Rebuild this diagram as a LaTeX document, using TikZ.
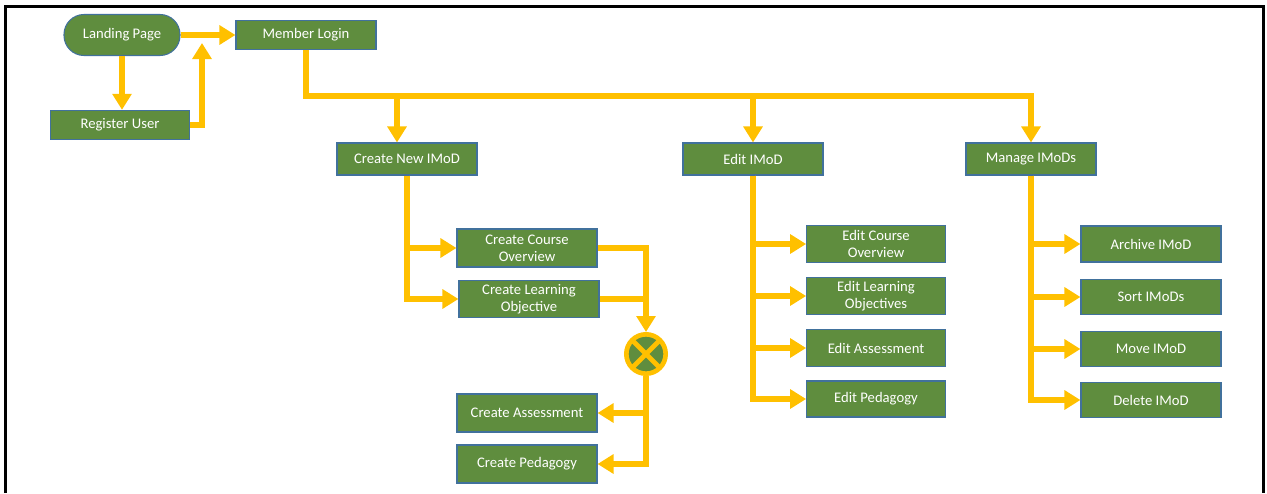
\documentclass[tikz,border=0pt]{standalone}
\usepackage{fontspec}
\setmainfont{Carlito}
\usetikzlibrary{arrows.meta}
\definecolor{boxfill}{HTML}{5F8D3E}
\definecolor{boxedge}{HTML}{41719C}
\definecolor{wire}{HTML}{FFC000}
\definecolor{frame}{HTML}{000000}

\begin{document}
\begin{tikzpicture}[x=0.75pt,y=-0.75pt,font=\fontsize{11}{13}\selectfont,
  box/.style={draw=boxedge,fill=boxfill,line width=0.8pt,text=white,align=center,inner sep=0pt,minimum width=105pt,minimum height=24pt},
  conn/.style={wire,line width=4.5pt},
  flow/.style={conn,-{Triangle[length=12pt,width=14pt]}},
  xorgate/.style={circle,draw=wire,fill=boxfill,line width=3.5pt,inner sep=0pt,minimum size=29.5pt}]
  \useasboundingbox (0,0) rectangle (1267,493);
  \draw[frame,line width=2.25pt] (5,493) -- (5,6) -- (1263,6) -- (1263,493);

  % ===== entry =====
  \node[box,rounded corners=15pt,minimum width=87pt,minimum height=30.75pt] (land) at (122,35) {Landing Page};
  \node[box,minimum height=22pt] (login) at (306,35) {Member Login};
  \node[box,minimum width=104pt,minimum height=22pt] (reg) at (120,125) {Register User};
  \coordinate (regup) at (202,43);
  \coordinate (bus) at (0,96);

  \draw[flow] (land.east) -- (login.west);
  \draw[flow] (land.south) -- (land.south |- reg.north);
  \draw[flow] (reg.east) -| (regup);

  % ===== main menu =====
  \node[box] (new) at (407,159) {Create New IMoD};
  \node[box] (edit) at (753,159) {Edit IMoD};
  \node[box,minimum width=97.5pt] (mgr) at (1031,159) {Manage IMoDs};
  \coordinate (newin) at ([xshift=-7.5pt]new.north);

  \draw[flow] (login.south) -- (login.south |- bus) -| (mgr.north);
  \draw[flow] (newin |- bus) -- (newin);
  \draw[flow] (edit.north |- bus) -- (edit.north);

  % ===== create column =====
  \node[box,minimum height=28.5pt] (cco) at (527,248) {Create Course\\Overview};
  \node[box,minimum height=28pt] (clo) at (529,299) {Create Learning\\Objective};
  \node[xorgate] (xor) at (646,354) {};
  \node[box,minimum height=28.5pt] (cas) at (527,413) {Create Assessment};
  \node[box,minimum height=28.5pt] (cped) at (527,464) {Create Pedagogy};

  \draw[wire,line width=3.5pt,shorten <=3pt,shorten >=3pt] (xor.north east) -- (xor.south west);
  \draw[wire,line width=3.5pt,shorten <=3pt,shorten >=3pt] (xor.north west) -- (xor.south east);

  \draw[flow] (new.south) |- (cco.west);
  \draw[flow] (new.south) |- (clo.west);
  \draw[flow] (cco.east) -| (xor.north);
  \draw[conn] (clo.east) -- (clo.east -| xor.north);
  \draw[flow] (xor.south) |- (cped.east);
  \draw[flow] (xor.south) |- (cas.east);

  % ===== edit column =====
  \node[box,minimum width=104pt,minimum height=28pt] (eco) at (876,244) {Edit Course\\Overview};
  \node[box,minimum width=104pt,minimum height=28pt] (elo) at (876,296) {Edit Learning\\Objectives};
  \node[box,minimum width=104pt,minimum height=28pt] (eas) at (876,348) {Edit Assessment};
  \node[box,minimum width=104pt,minimum height=27pt] (eped) at (876,399) {Edit Pedagogy};

  \draw[flow] (edit.south) |- (eped.west);
  \draw[flow] (edit.south) |- (eas.west);
  \draw[flow] (edit.south) |- (elo.west);
  \draw[flow] (edit.south) |- (eco.west);

  % ===== manage column =====
  \node[box,minimum height=27pt] (arc) at (1151,244) {Archive IMoD};
  \node[box,minimum height=26.5pt] (srt) at (1151,297) {Sort IMoDs};
  \node[box,minimum height=26.5pt] (mov) at (1151,349) {Move IMoD};
  \node[box,minimum height=26.5pt] (del) at (1151,400) {Delete IMoD};

  \draw[flow] (mgr.south) |- (del.west);
  \draw[flow] (mgr.south) |- (mov.west);
  \draw[flow] (mgr.south) |- (srt.west);
  \draw[flow] (mgr.south) |- (arc.west);
\end{tikzpicture}
\end{document}
